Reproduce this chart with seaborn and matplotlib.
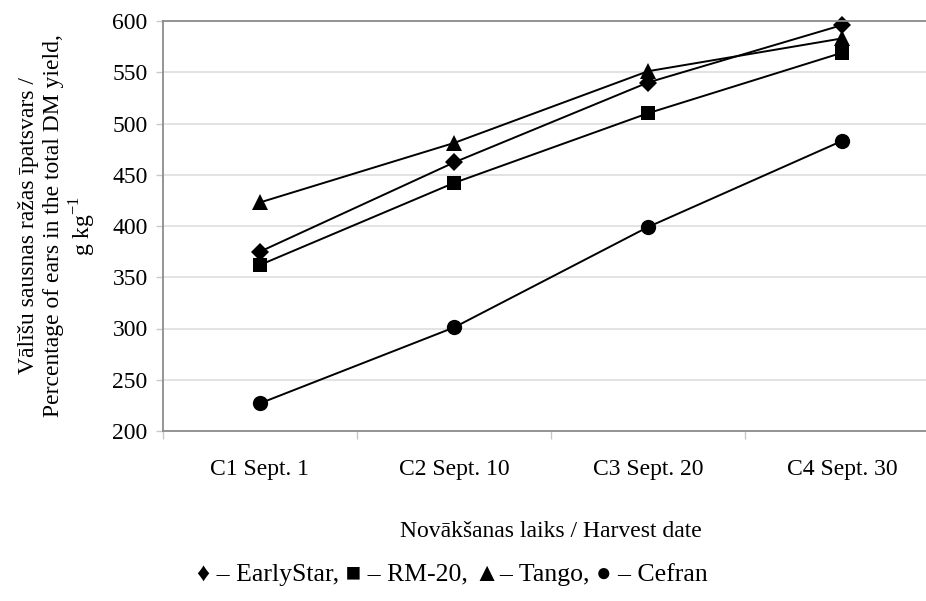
import matplotlib
matplotlib.use("Agg")
import matplotlib.pyplot as plt
import seaborn as sns
import pandas as pd
from matplotlib.ticker import FixedLocator, NullFormatter

harvest_dates = ["C1 Sept. 1", "C2 Sept. 10", "C3 Sept. 20", "C4 Sept. 30"]
early_star = [375, 462, 540, 596]
rm20 = [362, 442, 510, 569]
tango = [423, 481, 551, 583]
cefran = [227, 301, 399, 483]
y_ticks = [200, 250, 300, 350, 400, 450, 500, 550, 600]

series = {"EarlyStar": early_star, "RM-20": rm20, "Tango": tango, "Cefran": cefran}
rows = []
for name, vals in series.items():
    for d, v in zip(harvest_dates, vals):
        rows.append({"date": d, "value": v, "variety": name})
df = pd.DataFrame(rows)

sns.set_theme(style="white")
plt.rcParams["font.family"] = ["Liberation Serif", "DejaVu Serif", "DejaVu Sans"]

FS = 17

fig = plt.figure(figsize=(9.26, 6.01), dpi=100)
ax = fig.add_axes([163 / 926, 1 - 431 / 601, 776 / 926, 410 / 601])

markers = {"EarlyStar": "D", "RM-20": "s", "Tango": "^", "Cefran": "o"}
sizes = {"EarlyStar": 9.5, "RM-20": 10.5, "Tango": 12, "Cefran": 11}
palette = {k: "black" for k in series}

sns.lineplot(data=df, x="date", y="value", hue="variety", style="variety",
             markers=markers, dashes=False, palette=palette, linewidth=1.4,
             markeredgewidth=0, legend=False, ax=ax, sort=False)
for line, name in zip(ax.get_lines(), series.keys()):
    line.set_markersize(sizes[name])
    line.set_clip_on(False)

ax.set_xlim(-0.5, 3.5)
ax.set_ylim(200, 600)
ax.set_yticks(y_ticks)
ax.yaxis.grid(True, color="#dedede", linewidth=1.2)
ax.set_axisbelow(True)

ax.xaxis.set_minor_locator(FixedLocator([-0.5, 0.5, 1.5, 2.5, 3.5]))
ax.xaxis.set_minor_formatter(NullFormatter())
ax.tick_params(axis="x", which="major", length=0, pad=20, labelsize=FS, colors="black")
ax.tick_params(axis="x", which="minor", length=6, width=1, color="#c8c8c8", bottom=True)
ax.tick_params(axis="y", which="major", length=5, width=1, color="#c8c8c8", left=True,
               labelsize=FS, pad=6, labelcolor="black")

for sp in ax.spines.values():
    sp.set_color("#8c8c8c")
    sp.set_linewidth(1.3)

ax.set_xlabel("Novākšanas laiks / Harvest date", fontsize=FS, labelpad=30, color="black")
ax.set_ylabel("Vālīšu sausnas ražas īpatsvars /\nPercentage of ears in the total DM yield,\ng kg$^{\\mathregular{-1}}$",
              fontsize=FS, linespacing=1.2, labelpad=10, color="black")

fig.text(452 / 926, 1 - 575 / 601,
         "♦ – EarlyStar, ■ – RM-20, ▲– Tango, ● – Cefran",
         ha="center", va="center", fontsize=18.5, color="black",
         family=["Liberation Serif", "DejaVu Sans"])

fig.savefig("out.png", dpi=100)
